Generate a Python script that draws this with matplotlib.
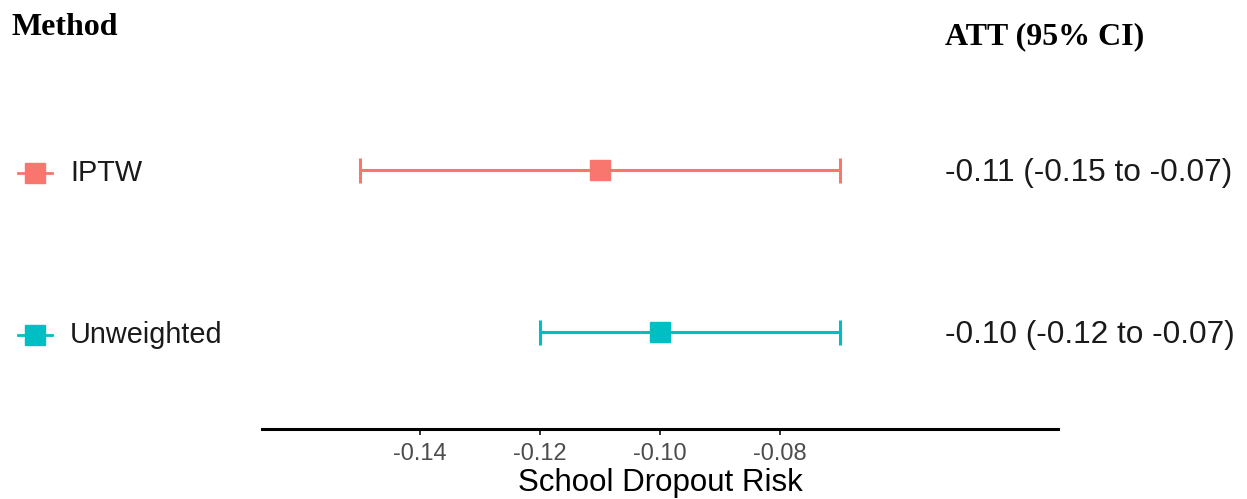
import matplotlib
matplotlib.use("Agg")
import matplotlib.pyplot as plt
from matplotlib.transforms import blended_transform_factory

# data
methods = ["IPTW", "Unweighted"]
att = [-0.11, -0.10]
ci_low = [-0.15, -0.12]
ci_high = [-0.07, -0.07]
colors = ["#F8766D", "#00BFC4"]
xticks = [-0.14, -0.12, -0.10, -0.08]
rows = [2, 1]

W, H = 1247, 499
fig = plt.figure(figsize=(W / 100, H / 100), dpi=100)
plt.rcParams["font.family"] = ["Liberation Sans", "DejaVu Sans"]

# panel in pixel coordinates
left, right, top, bottom = 262, 1058, 90, 428.5
ax = fig.add_axes([left / W, 1 - bottom / H, (right - left) / W, (bottom - top) / H])

for y, m, lo, hi, c in zip(rows, att, ci_low, ci_high, colors):
    ax.errorbar(m, y, xerr=[[m - lo], [hi - m]], fmt="s", color=c,
                ecolor=c, elinewidth=2.2, capsize=9, capthick=2.2,
                markersize=14, zorder=3)

ax.set_xlim(-0.16633, -0.03367)
ax.set_ylim(1 - 96.5 / 162, 2 + 80 / 162)
ax.set_xticks(xticks)
ax.set_xticklabels([f"{t:.2f}" for t in xticks])
ax.set_yticks([])
for s in ["top", "right", "left"]:
    ax.spines[s].set_visible(False)
ax.spines["bottom"].set_linewidth(2.2)
ax.tick_params(axis="x", length=4.5, width=1.4, color="#333333",
               labelsize=17, labelcolor="#4D4D4D", pad=6)
ax.set_xlabel("School Dropout Risk", fontsize=22.5, color="black", labelpad=2)

# left labels and key glyphs, right-hand estimates
tr = blended_transform_factory(fig.transFigure, ax.transData)
for y, name, m, lo, hi, c in zip(rows, methods, att, ci_low, ci_high, colors):
    ax.plot([18 / W, 52 / W], [y - 0.02, y - 0.02], color=c, lw=2.0,
            transform=tr, clip_on=False)
    ax.plot([35 / W], [y - 0.02], marker="s", color=c, markersize=14,
            transform=tr, clip_on=False)
    ax.text(70 / W, y - 0.02, name, transform=tr, fontsize=20.8,
            color="#1A1A1A", va="center", ha="left")
    ax.text(945 / W, y - 0.02, f"{m:.2f} ({lo:.2f} to {hi:.2f})", transform=tr,
            fontsize=22.8, color="#1A1A1A", va="center", ha="left")

fig.text(12 / W, 1 - 35 / H, "Method", fontsize=23, fontweight="bold",
         family="Liberation Serif", ha="left", va="baseline")
fig.text(945 / W, 1 - 44 / H, "ATT (95% CI)", fontsize=23, fontweight="bold",
         family="Liberation Serif", ha="left", va="baseline")

fig.savefig("out.png", dpi=100)
